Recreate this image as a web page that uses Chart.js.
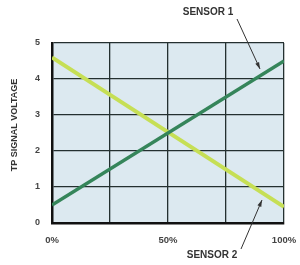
<!DOCTYPE html>
<html><head><meta charset="utf-8">
<script src="https://cdn.jsdelivr.net/npm/chart.js@4/dist/chart.umd.min.js"></script>
<style>html,body{margin:0;padding:0;background:#fff}#wrap{width:300px;height:265px;position:relative}</style>
</head><body><div id="wrap"><canvas id="c" width="300" height="265"></canvas></div>
<script>
const positions = [0, 100];
const sensor1 = [0.5, 4.5];
const sensor2 = [4.6, 0.45];
const xTickLabels = {0: '0%', 50: '50%', 100: '100%'};
const yTitle = 'TP SIGNAL VOLTAGE';
const seriesNames = ['SENSOR 1', 'SENSOR 2'];

const toPts = (ys) => positions.map((x, i) => ({x: x, y: ys[i]}));
const FONT = '"Liberation Sans", Arial, sans-serif';

const bgPlugin = {
  id: 'bg',
  beforeDraw(chart) {
    const {ctx, chartArea: a} = chart;
    ctx.save();
    ctx.fillStyle = '#dce9f0';
    ctx.fillRect(a.left, a.top, a.right - a.left, a.bottom - a.top);
    ctx.restore();
  },
  afterDraw(chart) {
    const ctx = chart.ctx;
    ctx.save();
    ctx.font = 'bold 10px ' + FONT;
    ctx.fillStyle = '#333';
    ctx.textAlign = 'center';
    ctx.textBaseline = 'middle';
    ctx.fillText(seriesNames[0], 208, 12);
    ctx.fillText(seriesNames[1], 212, 255);
    ctx.save();
    ctx.translate(15, 125);
    ctx.rotate(-Math.PI / 2);
    ctx.font = 'bold 9px ' + FONT;
    ctx.fillText(yTitle, 0, 0);
    ctx.restore();
    const arrow = (x1, y1, x2, y2) => {
      ctx.strokeStyle = '#333';
      ctx.fillStyle = '#333';
      ctx.lineWidth = 1;
      ctx.beginPath(); ctx.moveTo(x1, y1); ctx.lineTo(x2, y2); ctx.stroke();
      const ang = Math.atan2(y2 - y1, x2 - x1);
      const L = 7, W = 0.3;
      ctx.beginPath();
      ctx.moveTo(x2, y2);
      ctx.lineTo(x2 - L * Math.cos(ang - W), y2 - L * Math.sin(ang - W));
      ctx.lineTo(x2 - L * Math.cos(ang + W), y2 - L * Math.sin(ang + W));
      ctx.closePath(); ctx.fill();
    };
    arrow(237, 19, 260, 69);
    arrow(241, 249, 262, 200);
    ctx.restore();
  }
};

new Chart(document.getElementById('c'), {
  type: 'line',
  data: {
    datasets: [
      {label: seriesNames[0], data: toPts(sensor1), borderColor: '#35855a', borderWidth: 3.5, pointRadius: 0, fill: false},
      {label: seriesNames[1], data: toPts(sensor2), borderColor: '#c6df55', borderWidth: 4, pointRadius: 0, fill: false}
    ]
  },
  options: {
    responsive: false,
    animation: false,
    devicePixelRatio: 1,
    layout: {padding: {top: 43, right: 16, bottom: 0, left: 0}},
    plugins: {legend: {display: false}, tooltip: {enabled: false}},
    scales: {
      x: {
        type: 'linear', min: 0, max: 100,
        afterFit(s) { s.height = 42; s.paddingLeft = 0; s.paddingRight = 0; },
        ticks: {stepSize: 25, padding: 12, autoSkip: false, maxRotation: 0,
          color: '#444', font: {family: FONT, size: 9.5, weight: 'bold'},
          callback: (v) => xTickLabels[v] !== undefined ? xTickLabels[v] : ''},
        grid: {color: '#243030', lineWidth: 1.3, drawTicks: false},
        border: {color: '#111', width: 2.5}
      },
      y: {
        min: 0, max: 5,
        afterFit(s) { s.width = 52; s.paddingTop = 0; s.paddingBottom = 0; },
        ticks: {stepSize: 1, padding: 12, color: '#444',
          font: {family: FONT, size: 9, weight: 'bold'}},
        grid: {color: '#243030', lineWidth: 1.3, drawTicks: false},
        border: {color: '#111', width: 2.5}
      }
    }
  },
  plugins: [bgPlugin]
});
</script></body></html>
